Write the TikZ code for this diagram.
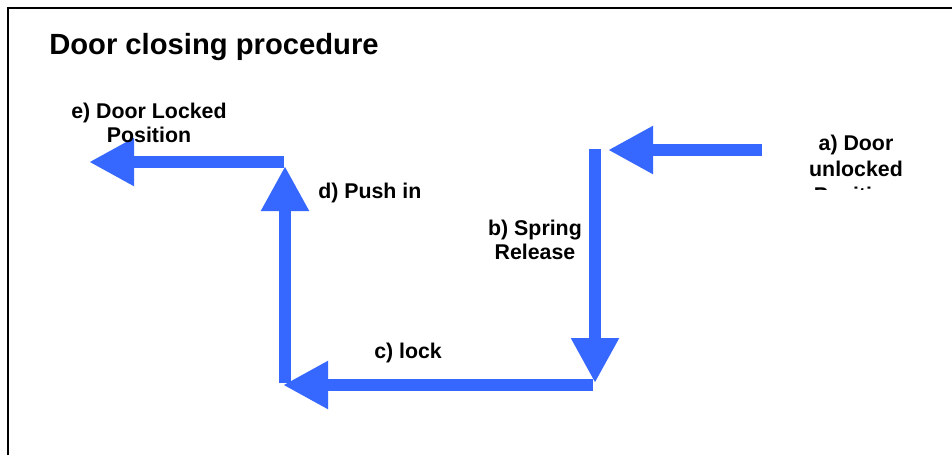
\documentclass[tikz,border=0pt]{standalone}
\usepackage{fontspec}
\setmainfont{Liberation Sans}
\usepackage{tikz}
\usetikzlibrary{arrows.meta,calc}

\tikzset{
  flow/.style={draw=doorblue, line width=9pt,
    -{Triangle[length=33.75pt,width=33.75pt]}},
  steplabel/.style={font=\fontsize{16}{18}\selectfont\bfseries, align=center, inner sep=0pt},
}
\definecolor{doorblue}{RGB}{54,104,255}

\begin{document}
\begin{tikzpicture}[x=0.75pt,y=-0.75pt]
  \useasboundingbox (0,0) rectangle (952,455);
  \draw[line width=1.5pt] (8,455) -- (8,8) -- (952,8); %外框只露出左边和上边

  \node [anchor=west, font=\fontsize{21.9}{26}\selectfont\bfseries, inner sep=0pt] (title) at (49,47) {Door closing procedure};

  % 折线上的各个拐点
  \coordinate (a0) at (762,150);
  \coordinate (a1) at (608,150);
  \coordinate (b0) at (595,149);
  \coordinate (b1) at (595,383);
  \coordinate (c0) at (593,385);
  \coordinate (c1) at (283,385);
  \coordinate (d0) at (285,383);
  \coordinate (d1) at (285,166);
  \coordinate (e0) at (284,162);
  \coordinate (e1) at (89,162);

  \draw[flow] (a0) -- (a1);
  \draw[flow] (b0) -- (b1);
  \draw[flow] (c0) -- (c1);
  \draw[flow] (d0) -- (d1);
  \draw[flow] (e0) -- (e1);

  \begin{scope}
    \clip (700,100) rectangle (952,189); %最后一行被截掉
    \node [steplabel, font=\fontsize{16}{19.5}\selectfont\bfseries, anchor=north] (posa) at (856,135) {a) Door\\unlocked\\Position};
  \end{scope}
  \node [steplabel] (posb) at (535,240) {b) Spring\\Release};
  \node [steplabel, anchor=west] (posc) at (374,353) {c) lock};
  \node [steplabel, anchor=west] (posd) at (318,193) {d) Push in};
  \node [steplabel] (pose) at (149,123) {e) Door Locked\\Position};
\end{tikzpicture}
\end{document}
